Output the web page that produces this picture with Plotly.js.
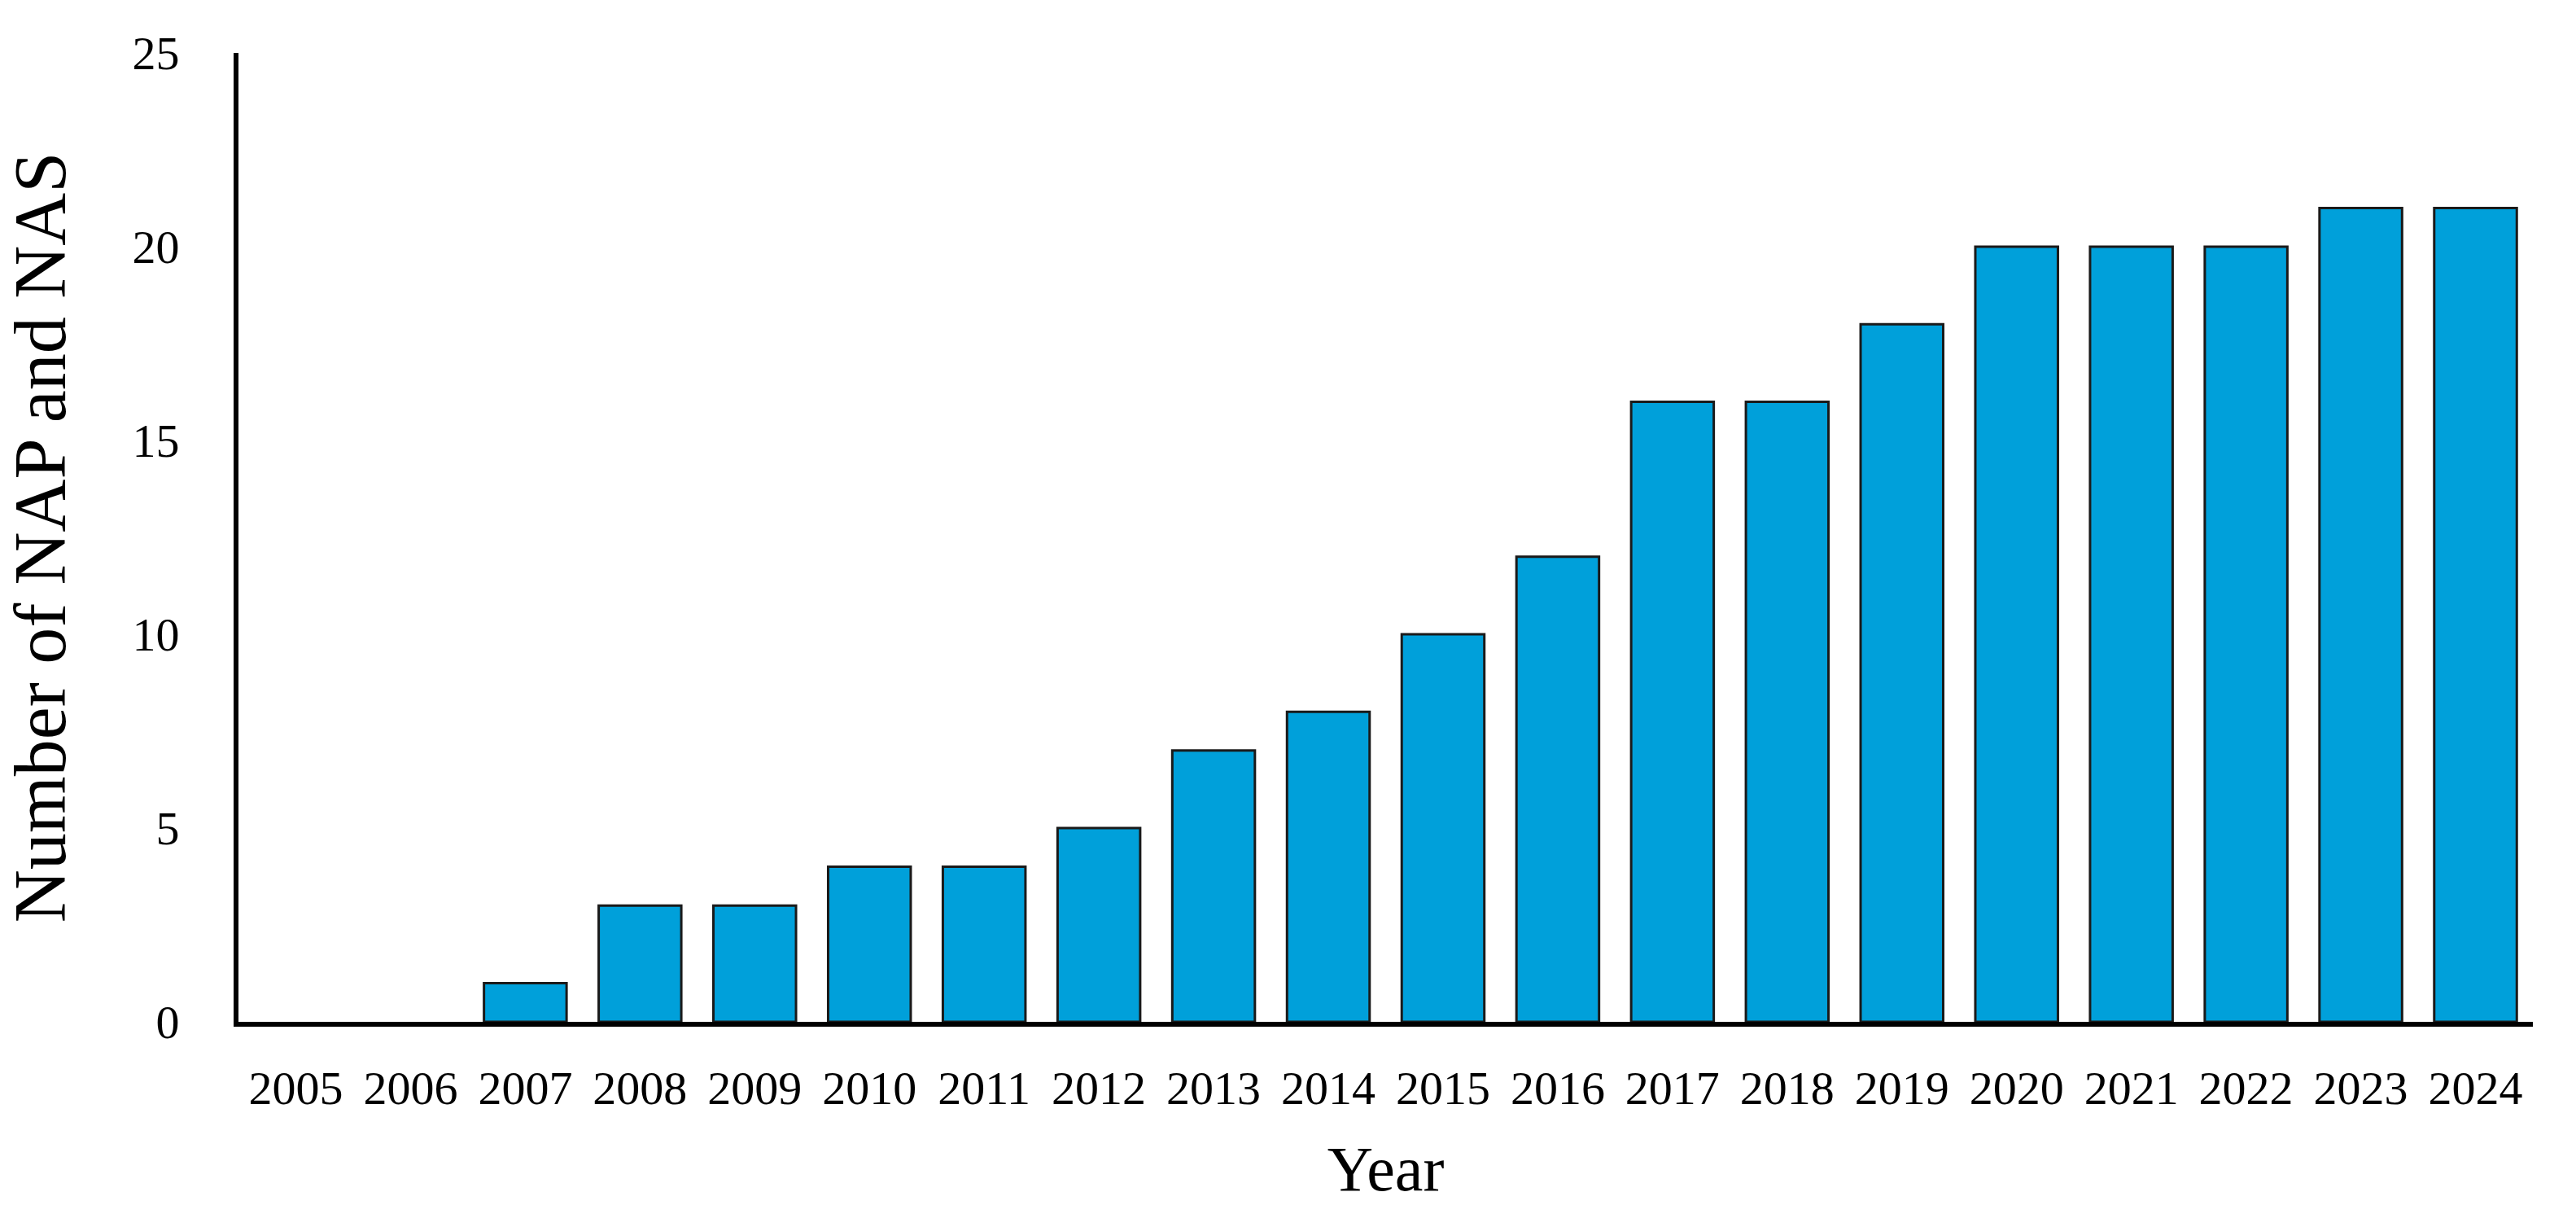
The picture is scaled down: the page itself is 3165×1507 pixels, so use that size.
<!DOCTYPE html>
<html>
<head>
<meta charset="utf-8">
<script src="https://cdn.plot.ly/plotly-3.0.1.min.js"></script>
<style>
  html, body { margin: 0; padding: 0; background: #ffffff; }
  #chart { width: 3165px; height: 1507px; }
</style>
</head>
<body>
<div id="chart"></div>
<script>
const years = ["2005","2006","2007","2008","2009","2010","2011","2012","2013","2014",
               "2015","2016","2017","2018","2019","2020","2021","2022","2023","2024"];
const counts = [0, 0, 1, 3, 3, 4, 4, 5, 7, 8, 10, 12, 16, 16, 18, 20, 20, 20, 21, 21];
const yTicks = [0, 5, 10, 15, 20, 25];

const FONT = "Liberation Serif, Times New Roman, serif";

const trace = {
  type: "bar",
  x: years,
  y: counts,
  marker: {
    color: "rgb(0,160,218)",
    line: { color: "#1a1a1a", width: counts.map(v => (v > 0 ? 3 : 0)) }
  },
  hoverinfo: "x+y"
};

const layout = {
  width: 3165,
  height: 1507,
  paper_bgcolor: "#ffffff",
  plot_bgcolor: "#ffffff",
  margin: { l: 293, r: 53, t: 65, b: 252 },
  bargap: 0.28,
  showlegend: false,
  font: { family: FONT, color: "#000000" },
  xaxis: {
    type: "category",
    showline: true,
    linecolor: "#000000",
    linewidth: 6,
    showgrid: false,
    zeroline: false,
    ticks: "",
    tickfont: { family: FONT, size: 58, color: "#000000" },
    ticklabelstandoff: 25,
    title: { text: "Year", font: { family: FONT, size: 78, color: "#000000" }, standoff: 42 },
    automargin: false
  },
  yaxis: {
    range: [0, 25],
    tickvals: yTicks,
    ticktext: yTicks.map(String),
    showline: true,
    linecolor: "#000000",
    linewidth: 6,
    showgrid: false,
    zeroline: false,
    ticks: "",
    tickfont: { family: FONT, size: 58, color: "#000000" },
    ticklabelstandoff: 55,
    title: { text: "Number of NAP and NAS", font: { family: FONT, size: 90, color: "#000000" }, standoff: 58 },
    automargin: false
  }
};

Plotly.newPlot("chart", [trace], layout, { displayModeBar: false, staticPlot: true });
</script>
</body>
</html>
